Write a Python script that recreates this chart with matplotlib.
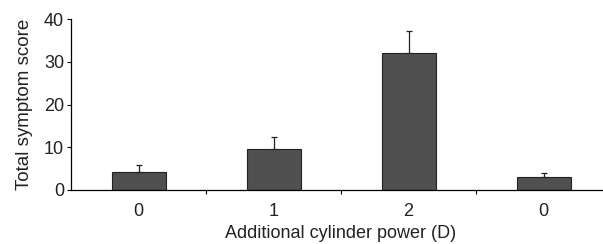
import matplotlib
matplotlib.use("Agg")
import matplotlib.pyplot as plt

# datos
categorias = ["0", "1", "2", "0"]
puntuacion = [4.3, 9.6, 32.0, 3.0]
error_sup = [1.6, 2.9, 5.2, 1.0]

plt.rcParams['font.family'] = ['Liberation Sans', 'DejaVu Sans']
plt.rcParams['text.color'] = '#222222'
plt.rcParams['axes.labelcolor'] = '#222222'
plt.rcParams['xtick.labelcolor'] = '#222222'
plt.rcParams['ytick.labelcolor'] = '#222222'

fig = plt.figure(figsize=(6.03, 2.44), dpi=100)
ax = fig.add_axes([71/603, 54/244, 540/603, 171/244])

pos = list(range(len(categorias)))
ax.bar(pos, puntuacion, width=0.4, color="#505050", edgecolor="#222222", linewidth=0.8,
       yerr=[[0]*len(error_sup), error_sup], error_kw=dict(ecolor="#222222", elinewidth=0.9,
                                                          capsize=2.5, capthick=0.9))

ax.set_xlim(-0.5, 3.5)
ax.set_ylim(0, 40)
ax.set_yticks([0, 10, 20, 30, 40])
ax.set_xticks(pos)
ax.set_xticklabels(categorias)
ax.set_xticks([0.5, 1.5, 2.5], minor=True)
ax.tick_params(axis='x', which='major', length=0, pad=9, labelsize=13)
ax.tick_params(axis='x', which='minor', length=3, width=0.8, direction='out')
ax.tick_params(axis='y', length=3, width=0.8, labelsize=13, pad=2)

for lado in ['top', 'right']:
    ax.spines[lado].set_visible(False)
ax.spines['left'].set_linewidth(0.9)
ax.spines['bottom'].set_linewidth(0.9)

ax.set_xlabel("Additional cylinder power (D)", fontsize=13, labelpad=4)
ax.set_ylabel("Total symptom score", fontsize=13.5, labelpad=8)

plt.savefig("out.png", dpi=100)
